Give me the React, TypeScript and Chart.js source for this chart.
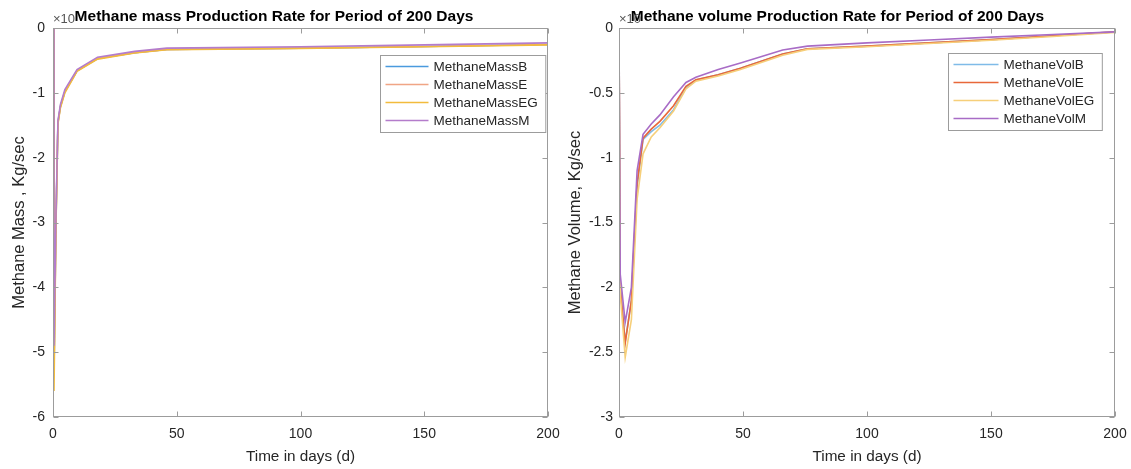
import React, { useEffect, useRef } from "react";
import { Chart, registerables } from "chart.js";

Chart.register(...registerables);

// ---------- data ----------
const massDays = [0, 0.4, 1.2, 2, 3, 4.8, 9.7, 18, 33, 46, 100, 150, 200];
const massB = [0, -5.3, -3.0, -1.46, -1.21, -0.98, -0.66, -0.47, -0.38, -0.33, -0.31, -0.285, -0.255];
const massE = [0, -5.3, -3.0, -1.46, -1.21, -0.98, -0.66, -0.47, -0.38, -0.33, -0.31, -0.285, -0.255];
const massEG = [0, -5.6, -3.05, -1.48, -1.23, -1.0, -0.67, -0.48, -0.385, -0.335, -0.315, -0.29, -0.26];
const massM = [0, -4.9, -2.9, -1.43, -1.18, -0.95, -0.64, -0.45, -0.36, -0.31, -0.29, -0.26, -0.23];

const volDays = [0, 0.5, 2.5, 5, 7.3, 9.7, 13, 16.5, 22, 27, 31, 40, 49, 66, 76, 100, 125, 150, 175, 200];
const volB = [0, -2.0, -2.42, -2.1, -1.22, -0.86, -0.8, -0.75, -0.63, -0.46, -0.4, -0.36, -0.31, -0.2, -0.16, -0.14, -0.115, -0.09, -0.06, -0.03];
const volE = [0, -2.0, -2.43, -2.1, -1.2, -0.85, -0.78, -0.72, -0.6, -0.45, -0.4, -0.36, -0.31, -0.2, -0.16, -0.14, -0.115, -0.09, -0.06, -0.03];
const volEG = [0, -2.05, -2.54, -2.25, -1.32, -0.97, -0.84, -0.77, -0.64, -0.47, -0.41, -0.37, -0.32, -0.21, -0.165, -0.145, -0.12, -0.095, -0.065, -0.035];
const volM = [0, -1.9, -2.27, -2.0, -1.1, -0.82, -0.74, -0.67, -0.53, -0.42, -0.38, -0.32, -0.27, -0.17, -0.14, -0.115, -0.092, -0.07, -0.05, -0.03];

const massLabels = ["MethaneMassB", "MethaneMassE", "MethaneMassEG", "MethaneMassM"];
const volLabels = ["MethaneVolB", "MethaneVolE", "MethaneVolEG", "MethaneVolM"];

const massColors = ["#4a9ade", "#f0a585", "#f2bb3c", "#b47ccb"];
const volColors = ["#7fbbe8", "#e8683a", "#f6cf7a", "#a86cc6"];

const xTickLabels = ["0", "50", "100", "150", "200"];

const FONT = "'Liberation Sans', Arial, Helvetica, sans-serif";

// ---------- plugin: MATLAB style box, inward ticks, legend, exponent ----------
const matlabPlugin = {
  id: "matlabBox",
  afterDraw(chart: any, _args: any, opts: any) {
    const { ctx, chartArea: a, scales } = chart;
    const L = Math.round(a.left) + 0.5;
    const R = Math.round(a.right) - 0.5;
    const T = Math.round(a.top) + 0.5;
    const B = Math.round(a.bottom) - 0.5;
    ctx.save();
    ctx.strokeStyle = "#9c9c9c";
    ctx.lineWidth = 1;
    ctx.strokeRect(L, T, R - L, B - T);
    const tl = 5;
    ctx.beginPath();
    scales.x.ticks.forEach((t: any) => {
      const px = Math.round(scales.x.getPixelForValue(t.value)) + 0.5;
      ctx.moveTo(px, B);
      ctx.lineTo(px, B - tl);
      ctx.moveTo(px, T);
      ctx.lineTo(px, T + tl);
    });
    scales.y.ticks.forEach((t: any) => {
      const py = Math.round(scales.y.getPixelForValue(t.value)) + 0.5;
      ctx.moveTo(L, py);
      ctx.lineTo(L + tl, py);
      ctx.moveTo(R, py);
      ctx.lineTo(R - tl, py);
    });
    ctx.stroke();

    // exponent label
    ctx.fillStyle = "#555";
    ctx.font = `13px ${FONT}`;
    ctx.textAlign = "left";
    ctx.textBaseline = "alphabetic";
    ctx.fillText("\u00d710", a.left, a.top - 5);

    // legend
    const lg = opts.legend;
    ctx.font = `13.5px ${FONT}`;
    const ds = chart.data.datasets;
    let maxW = 0;
    ds.forEach((d: any) => {
      maxW = Math.max(maxW, ctx.measureText(d.label).width);
    });
    const lineLen = lg.lineLen;
    const bw = 5 + lineLen + 5 + maxW + 8;
    const rowH = lg.rowH;
    const bh = ds.length * rowH + 5;
    const bx = Math.round(a.right - lg.right - bw) + 0.5;
    const by = Math.round(a.top + lg.top) + 0.5;
    ctx.fillStyle = "#ffffff";
    ctx.fillRect(bx, by, bw, bh);
    ctx.strokeStyle = "#9c9c9c";
    ctx.lineWidth = 1;
    ctx.strokeRect(bx, by, bw, bh);
    ds.forEach((d: any, i: number) => {
      const cy = by + 11 + i * rowH;
      ctx.strokeStyle = d.borderColor;
      ctx.lineWidth = 1.5;
      ctx.beginPath();
      ctx.moveTo(bx + 5, cy);
      ctx.lineTo(bx + 5 + lineLen, cy);
      ctx.stroke();
      ctx.fillStyle = "#262626";
      ctx.textBaseline = "middle";
      ctx.fillText(d.label, bx + 5 + lineLen + 5, cy + 1);
    });
    ctx.restore();
  },
};

function makeConfig(p: {
  days: number[];
  series: number[][];
  labels: string[];
  colors: string[];
  title: string;
  yTitle: string;
  yMin: number;
  yStep: number;
  yWidth: number;
  yTitlePad: number;
  yTickPad: number;
  padRight: number;
  legend: any;
}) {
  return {
    type: "line",
    data: {
      datasets: p.series.map((vals, i) => ({
        label: p.labels[i],
        data: p.days.map((d, j) => ({ x: d, y: vals[j] })),
        borderColor: p.colors[i],
        backgroundColor: p.colors[i],
        borderWidth: 1.6,
        pointRadius: 0,
        tension: 0,
        fill: false,
        order: p.series.length - i,
      })),
    },
    options: {
      responsive: false,
      animation: false,
      devicePixelRatio: 1,
      layout: { padding: { left: 0, right: p.padRight, top: 0, bottom: 0 } },
      plugins: {
        legend: { display: false },
        tooltip: { enabled: false },
        title: {
          display: true,
          text: p.title,
          color: "#000",
          font: { family: FONT, size: 15.5, weight: "bold", lineHeight: 1.2 },
          padding: { top: 7, bottom: 2.4 },
        },
        matlabBox: { legend: p.legend },
      },
      scales: {
        x: {
          type: "linear",
          min: 0,
          max: 200,
          ticks: {
            stepSize: 50,
            padding: 9,
            color: "#262626",
            font: { family: FONT, size: 14 },
            maxRotation: 0,
            callback: (v: number) => {
              const idx = [0, 50, 100, 150, 200].indexOf(v);
              return idx >= 0 ? xTickLabels[idx] : "";
            },
          },
          grid: { display: false, drawTicks: false },
          border: { display: false },
          title: {
            display: true,
            text: "Time in days (d)",
            color: "#262626",
            font: { family: FONT, size: 15.3, lineHeight: 1.2 },
            padding: { top: 0, bottom: 3 },
          },
          afterFit: (s: any) => {
            s.height = 52;
            s.paddingLeft = 0;
            s.paddingRight = 0;
          },
        },
        y: {
          type: "linear",
          min: p.yMin,
          max: 0,
          ticks: {
            stepSize: p.yStep,
            padding: p.yTickPad,
            color: "#262626",
            font: { family: FONT, size: 14 },
            callback: (v: number) => String(Math.round(v * 100) / 100),
          },
          grid: { display: false, drawTicks: false },
          border: { display: false },
          title: {
            display: true,
            text: p.yTitle,
            color: "#262626",
            font: { family: FONT, size: 16.5, lineHeight: 1.2 },
            padding: { top: p.yTitlePad, bottom: 0 },
          },
          afterFit: (s: any) => {
            s.width = p.yWidth;
            s.paddingTop = 0;
            s.paddingBottom = 0;
          },
        },
      },
    },
    plugins: [matlabPlugin],
  };
}

function ChartCanvas({ left, width, config }: { left: number; width: number; config: any }) {
  const ref = useRef<HTMLCanvasElement | null>(null);
  useEffect(() => {
    if (!ref.current) return;
    const chart = new Chart(ref.current, config);
    return () => chart.destroy();
  }, [config]);
  return (
    <canvas
      ref={ref}
      width={width}
      height={469}
      style={{ position: "absolute", left, top: 0, width, height: 469, display: "block" }}
    />
  );
}

const massConfig = makeConfig({
  days: massDays,
  series: [massB, massE, massEG, massM],
  labels: massLabels,
  colors: massColors,
  title: "Methane mass Production Rate for Period of 200 Days",
  yTitle: "Methane Mass , Kg/sec",
  yMin: -6,
  yStep: 1,
  yWidth: 53,
  yTitlePad: 10,
  yTickPad: 8,
  padRight: 12,
  legend: { right: 3, top: 27, lineLen: 43, rowH: 18 },
});

const volConfig = makeConfig({
  days: volDays,
  series: [volB, volE, volEG, volM],
  labels: volLabels,
  colors: volColors,
  title: "Methane volume Production Rate for Period of 200 Days",
  yTitle: "Methane Volume, Kg/sec",
  yMin: -3,
  yStep: 0.5,
  yWidth: 59,
  yTitlePad: 6,
  yTickPad: 6,
  padRight: 16,
  legend: { right: 13, top: 25, lineLen: 45, rowH: 18 },
});

export default function App() {
  return (
    <div style={{ position: "absolute", left: 0, top: 0, width: 1131, height: 469, background: "#fff", overflow: "hidden" }}>
      <ChartCanvas left={0} width={560} config={massConfig} />
      <ChartCanvas left={560} width={571} config={volConfig} />
    </div>
  );
}
